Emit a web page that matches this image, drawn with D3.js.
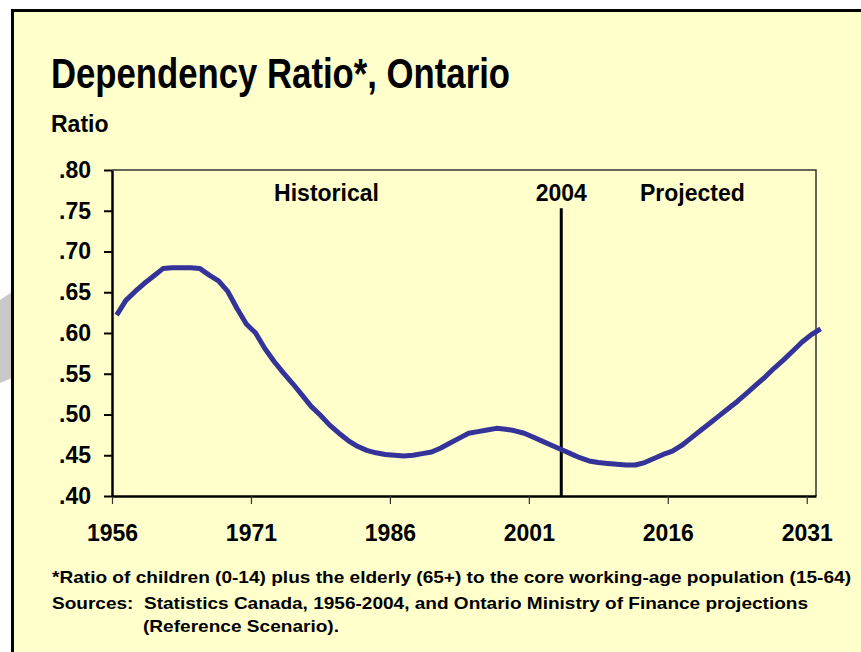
<!DOCTYPE html>
<html>
<head>
<meta charset="utf-8">
<script src="https://cdn.jsdelivr.net/npm/d3@7"></script>
<style>
  body { margin: 0; background: #fff; }
  svg { display: block; font-family: "Liberation Sans", Arial, sans-serif; font-weight: bold; }
</style>
</head>
<body>
<div id="chart"></div>
<script>
// dependency ratio, one value per year 1956..2031
var startYear = 1956;
var ratios = [
  .622, .640, .651, .661, .670, .679, .680, .680, .680, .679,
  .671, .664, .651, .630, .611, .600, .581, .565, .551, .538,
  .524, .510, .499, .487, .477, .468, .461, .456, .453, .451,
  .450, .449, .450, .452, .454, .459, .465, .471, .477, .479,
  .481, .483, .482, .480, .477, .472, .467, .462, .457, .452,
  .447, .443, .441, .440, .439, .438, .438, .441, .446, .451,
  .455, .462, .471, .480, .489, .498, .507, .516, .526, .536,
  .546, .557, .567, .578, .589, .598, .605
];
var xTicks = [1956, 1971, 1986, 2001, 2016, 2031];
var yTicks = [.40, .45, .50, .55, .60, .65, .70, .75, .80];
var splitYear = 2004;
var periodLabels = ["Historical", "2004", "Projected"];
var titleText = "Dependency Ratio*, Ontario";
var yTitle = "Ratio";
var notes = [
  "*Ratio of children (0-14) plus the elderly (65+) to the core working-age population (15-64)",
  "Sources:  Statistics Canada, 1956-2004, and Ontario Ministry of Finance projections",
  "(Reference Scenario)."
];

var data = ratios.map(function (v, i) { return { year: startYear + i, value: v }; });

var width = 861, height = 652;
var svg = d3.select('#chart').append('svg')
  .attr('width', width).attr('height', height);

// grey slide decoration peeking out at the left
svg.append('path')
  .attr('d', 'M0,300L12,292L12,378L0,383Z')
  .attr('fill', '#c8c8c8');

// yellow panel
svg.append('rect')
  .attr('x', 12.5).attr('y', 10.5)
  .attr('width', 900).attr('height', 700)
  .attr('fill', '#ffffcc')
  .attr('stroke', '#000').attr('stroke-width', 3);

var x = d3.scaleLinear().domain([1956, 2032]).range([112, 816]);
var y = d3.scaleLinear().domain([.40, .80]).range([496, 170]);

// title
svg.append('text')
  .attr('x', 51).attr('y', 88)
  .attr('font-size', 42)
  .attr('textLength', 459).attr('lengthAdjust', 'spacingAndGlyphs')
  .text(titleText);

svg.append('text')
  .attr('x', 51).attr('y', 132)
  .attr('font-size', 23)
  .text(yTitle);

// plot frame (top & right)
svg.append('path')
  .attr('d', 'M' + x(1956) + ',' + y(.80) + 'H' + x(2032) + 'V' + y(.40))
  .attr('fill', 'none')
  .attr('stroke', '#333').attr('stroke-width', 1.5);

// x axis
var xAxis = svg.append('g')
  .attr('transform', 'translate(0,' + y(.40) + ')')
  .call(d3.axisBottom(x).tickValues(xTicks).tickFormat(d3.format('d'))
    .tickSize(8).tickSizeOuter(0).tickPadding(21));
xAxis.select('.domain').attr('stroke', '#000').attr('stroke-width', 2.5);
xAxis.selectAll('.tick line').attr('stroke', '#333').attr('stroke-width', 1.2);
xAxis.selectAll('.tick text')
  .attr('font-size', 23).attr('font-family', '"Liberation Sans", Arial, sans-serif')
  .attr('font-weight', 'bold').attr('fill', '#000');

// y axis
var yAxis = svg.append('g')
  .attr('transform', 'translate(' + x(1956) + ',0)')
  .call(d3.axisLeft(y).tickValues(yTicks)
    .tickFormat(function (d) { return d3.format('.2f')(d).replace(/^0/, ''); })
    .tickSize(8).tickSizeOuter(0).tickPadding(13));
yAxis.select('.domain').attr('stroke', '#000').attr('stroke-width', 2.5);
yAxis.selectAll('.tick line').attr('stroke', '#000').attr('stroke-width', 2);
yAxis.selectAll('.tick text')
  .attr('font-size', 23).attr('font-family', '"Liberation Sans", Arial, sans-serif')
  .attr('font-weight', 'bold').attr('fill', '#000');

// 2004 divider
svg.append('line')
  .attr('x1', x(splitYear + .5)).attr('x2', x(splitYear + .5))
  .attr('y1', y(.753)).attr('y2', y(.40))
  .attr('stroke', '#000').attr('stroke-width', 3);

var labelY = y(.762);
svg.append('text').attr('x', x(1973.5)).attr('y', labelY)
  .attr('font-size', 23).text(periodLabels[0]);
svg.append('text').attr('x', x(splitYear + .5)).attr('y', labelY)
  .attr('font-size', 23).attr('text-anchor', 'middle').text(periodLabels[1]);
svg.append('text').attr('x', x(2013)).attr('y', labelY)
  .attr('font-size', 23).text(periodLabels[2]);

// the series
var line = d3.line()
  .x(function (d) { return x(d.year + .5); })
  .y(function (d) { return y(d.value); });

svg.append('path')
  .datum(data)
  .attr('d', line)
  .attr('fill', 'none')
  .attr('stroke', '#333399')
  .attr('stroke-width', 5)
  .attr('stroke-linejoin', 'round');

// footnotes
svg.append('text').attr('x', 52).attr('y', 583)
  .attr('font-size', 16.5)
  .attr('textLength', 799).attr('lengthAdjust', 'spacingAndGlyphs')
  .text(notes[0]);
svg.append('text').attr('x', 52).attr('y', 609)
  .attr('font-size', 16.5)
  .attr('textLength', 756).attr('lengthAdjust', 'spacingAndGlyphs')
  .style('white-space', 'pre')
  .text(notes[1]);
svg.append('text').attr('x', 143).attr('y', 632)
  .attr('font-size', 16.5)
  .attr('textLength', 196).attr('lengthAdjust', 'spacingAndGlyphs')
  .text(notes[2]);
</script>
</body>
</html>
